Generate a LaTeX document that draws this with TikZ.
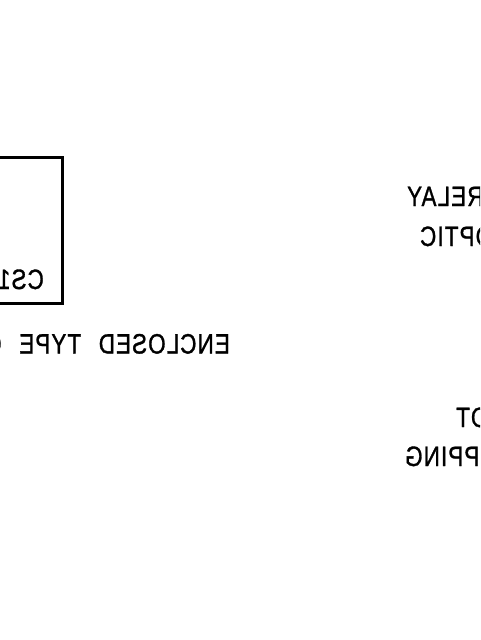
\documentclass[tikz,border=0pt]{standalone}
\usepackage{fontspec}
\setmainfont[WordSpace=2.4, LetterSpace=5, FakeBold=1.2]{Liberation Sans}
\usetikzlibrary{positioning}

\begin{document}
\begin{tikzpicture}[x=1pt, y=-1pt,
  caption/.style={xscale=-0.8, anchor=base west, inner sep=0pt, font=\fontsize{28}{28}\selectfont},
  panel/.style={draw, line width=2.8pt, anchor=north east, inner sep=0pt, minimum width=120pt, minimum height=146.5pt}
]
\clip (0,0) rectangle (480,640);
\useasboundingbox (0,0) rectangle (480,640);

% Enclosure, cut by the left edge
\node[panel] (enclosure) at (63.6,155.8) {};
\node[caption] (tag) at (44,289) {CS1};
\node[caption] (type) at (230,353.5) {ENCLOSED TYPE C};

% Right column, cut by the right edge
\node[caption, anchor=base east] (relay) at (407,206) {RELAY};
\node[caption, anchor=base east] (optic) at (420,246) {OPTIC};
\node[caption, anchor=base east] (trip) at (456,427) {OT};
\node[caption, anchor=base east] (ping) at (405,466) {PPING};
\end{tikzpicture}
\end{document}
